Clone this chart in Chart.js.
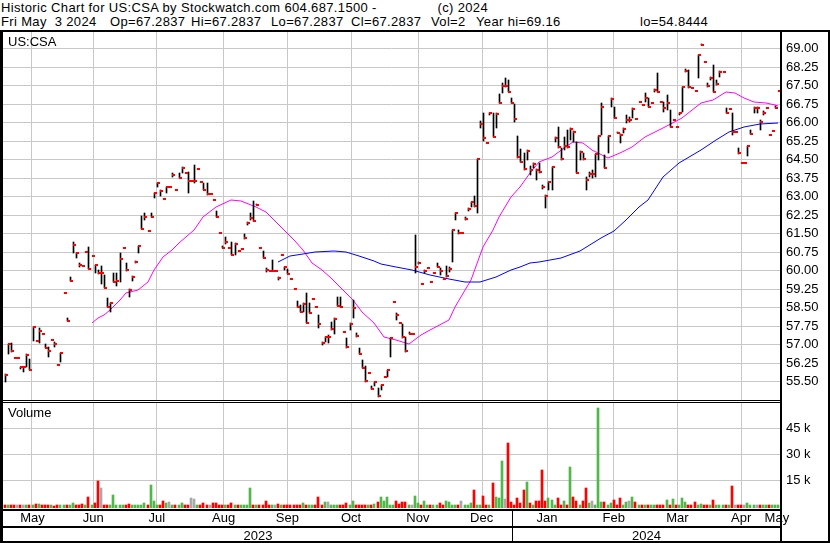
<!DOCTYPE html>
<html>
<head>
<meta charset="utf-8">
<script src="https://cdn.jsdelivr.net/npm/chart.js@4.4.1/dist/chart.umd.min.js"></script>
<style>
body { margin: 0; background: #fff; }
#wrap { position: relative; width: 830px; height: 543px; overflow: hidden; font-family: "Liberation Sans", Arial, sans-serif; }
.t { position: absolute; font-size: 13px; line-height: 14px; white-space: pre; color: #000; }
.h { letter-spacing: 0.35px; }
.k { position: absolute; background: #000; }
canvas { position: absolute; left: 0; }
</style>
</head>
<body>
<div id="wrap">
  <div class="t h" style="left:1px;top:1px">Historic Chart for US:CSA by Stockwatch.com 604.687.1500 -</div>
  <div class="t h" style="right:342px;top:1px">(c) 2024</div>
  <div class="t h" style="left:1px;top:15px">Fri May  3 2024</div>
  <div class="t h" style="left:110px;top:15px">Op=67.2837</div>
  <div class="t h" style="left:191px;top:15px">Hi=67.2837</div>
  <div class="t h" style="left:271px;top:15px">Lo=67.2837</div>
  <div class="t h" style="left:351px;top:15px">Cl=67.2837</div>
  <div class="t h" style="left:431px;top:15px">Vol=2</div>
  <div class="t h" style="left:476px;top:15px">Year hi=69.16</div>
  <div class="t h" style="left:640px;top:15px">lo=54.8444</div>
  <canvas id="price" width="830" height="368" style="top:32px"></canvas>
  <canvas id="vol" width="830" height="140" style="top:403px"></canvas>
  <div class="k" style="left:0;top:30px;width:830px;height:2px"></div>
  <div class="k" style="left:0;top:32px;width:3px;height:511px"></div>
  <div class="k" style="left:780px;top:32px;width:2px;height:511px"></div>
  <div class="k" style="left:828px;top:32px;width:2px;height:511px"></div>
  <div class="k" style="left:0;top:400px;width:782px;height:1px"></div>
  <div class="k" style="left:0;top:402px;width:782px;height:1px"></div>
  <div class="t" style="left:8px;top:35px">US:CSA</div>
  <div class="t" style="left:8px;top:406px">Volume</div>
</div>
<script>
// daily bars, May 4 2023 .. May 3 2024
var cl = [
  55.77,57.00,56.75,56.45,56.45,56.07,56.07,56.58,55.98,57.72, 57.15,57.56,57.42,56.84,56.75,57.19,57.00,56.18,56.66,
  59.07,57.96,59.58,61.03,60.70,60.22,60.19,60.75,60.07,60.60, 60.22,59.90,59.90,59.28,58.53,58.67,59.54,59.58,60.47,
  60.90,60.02,59.20,59.72,60.33,60.99,61.69,62.18,61.60,62.18, 63.12,63.53,63.23,62.90,63.39,63.39,63.88,63.26,63.73,64.16,
  63.96,63.64,63.64,63.64,64.11,63.58,63.26,63.10,63.10,62.85, 62.18,61.53,60.92,61.16,60.92,60.64,61.08,60.79,60.88,61.31, 61.92,62.12,62.01,
  62.65,60.92,60.51,60.03,59.96,59.99,59.99,59.70,60.64,60.12, 59.84,59.64,59.23,58.53,58.33,58.65,57.86,58.27,58.85,
  58.53,57.84,57.05,57.31,57.31,57.64,58.04,58.56,58.53,57.52, 56.91,57.83,58.49,57.33,56.61,56.03,55.52,55.86,55.21,55.49, 54.92,55.35,55.67,
  55.96,57.27,58.73,58.18,57.88,57.31,56.75,57.44,57.44,60.15, 60.29,59.44,59.99,60.11,59.54,59.91,60.15,59.99,59.64,59.78, 60.06,
  61.63,62.31,61.50,61.50,62.07,62.49,62.78,62.62,64.50,65.92, 65.38,65.15,66.37,65.42,66.33,66.77,67.47,67.47,67.24,66.80,
  66.15,64.58,64.40,64.10,64.85,64.06,64.30,64.06,64.00,63.39, 63.01,63.58,64.20,65.38,64.99,64.50,65.04,65.01,65.73,65.62, 63.96,
  64.81,64.51,63.66,63.89,63.89,64.70,65.45,66.61,64.16,65.45, 66.93,66.19,65.58,65.49,65.74,66.09,66.09,66.55,66.15,66.84,
  66.70,66.97,66.63,66.80,67.31,67.23,66.84,66.60,66.80,65.82, 66.09,65.82,66.37,67.42,68.09,67.42,67.38,67.28,68.73,69.13,
  68.46,67.47,67.78,67.24,67.55,68.03,68.05,66.39,66.55,65.62, 65.62,64.74,64.34,64.34,65.05,65.53,66.59,66.59,66.03,66.39, 66.59,65.47,
  65.66,66.59,67.28
];
var hi = [
  55.80,57.03,57.05,56.45,56.45,56.10,56.07,56.60,56.40,57.72, 57.15,57.68,57.42,57.00,56.90,57.19,57.10,56.18,56.66,
  59.07,58.07,59.75,61.16,60.70,60.30,60.19,60.75,60.95,60.60, 60.22,60.00,60.17,59.80,58.90,58.69,59.90,59.90,60.72,
  60.90,60.29,59.23,59.77,60.38,60.99,62.20,62.31,61.60,62.34, 63.12,63.53,63.26,62.90,63.39,63.39,63.94,63.26,63.94,64.18,
  63.96,64.00,63.64,64.27,64.11,63.58,63.55,63.53,63.10,62.85, 62.42,61.53,60.99,61.34,60.92,61.16,61.10,60.79,60.88,61.46, 61.97,62.31,62.81,
  62.70,60.92,60.79,60.11,59.96,60.42,59.99,59.75,60.64,60.12, 60.06,59.64,59.23,58.76,58.60,58.67,59.07,58.67,58.85,
  58.53,58.19,57.11,57.31,57.38,57.92,58.06,58.94,58.94,57.52, 57.25,57.86,58.80,57.45,56.84,56.37,56.13,55.86,55.32,55.49, 55.22,55.36,55.67,
  55.97,57.27,58.73,58.26,57.88,57.83,57.29,57.52,57.44,61.43, 60.35,59.44,60.02,60.11,59.54,59.91,60.31,60.09,59.64,60.18, 60.15,
  61.65,62.34,61.63,61.50,62.18,62.52,62.78,63.02,64.50,66.07, 66.37,65.15,66.39,66.39,66.37,67.14,67.61,67.78,67.72,66.97,
  66.74,65.45,64.91,64.77,64.88,64.23,64.34,64.10,64.34,63.46, 63.06,63.59,64.20,65.42,65.82,64.95,65.42,65.69,65.76,65.66, 65.22,
  64.85,64.75,63.80,64.00,64.07,64.70,65.45,66.77,64.68,65.45, 66.97,66.63,65.62,65.53,65.76,66.30,66.23,66.57,66.15,66.84,
  66.70,67.20,66.97,66.80,67.34,67.99,66.84,66.84,67.11,66.50, 66.09,65.82,66.39,67.42,68.15,68.12,67.38,67.28,68.73,69.16,
  68.46,67.58,67.85,68.32,67.72,68.08,68.05,66.57,66.55,66.39, 65.62,64.95,64.34,64.34,65.05,65.69,66.61,66.61,66.09,66.46, 66.59,65.47,
  65.66,66.66,67.28
];
var lo = [
  55.48,56.63,56.70,56.45,56.45,55.99,55.90,56.10,55.98,57.15, 57.15,57.07,57.42,56.84,56.50,57.19,56.90,56.18,56.30,
  59.07,57.96,59.58,60.72,60.50,60.15,60.19,60.75,60.07,60.60, 59.90,59.85,59.44,59.28,58.53,58.33,59.54,59.35,59.55,
  60.90,59.99,58.93,59.58,60.29,60.72,61.67,62.04,61.60,62.18, 62.92,63.39,63.02,62.90,63.12,63.39,63.80,63.26,63.73,63.96,
  63.96,63.15,63.64,63.53,64.11,63.58,63.26,63.05,63.10,62.85, 62.18,61.53,60.90,61.07,60.92,60.62,60.62,60.79,60.88,61.27, 61.84,62.04,62.01,
  62.65,60.92,60.49,59.95,59.96,59.98,59.99,59.61,60.64,60.02, 59.84,59.64,59.23,58.53,58.33,58.33,57.86,58.26,58.85,
  58.53,57.68,56.98,57.09,57.05,57.59,57.42,58.56,58.53,57.52, 56.84,57.59,58.06,57.31,56.61,56.03,55.49,55.86,55.18,55.32, 54.86,55.16,55.67,
  55.67,56.48,58.73,57.99,57.88,57.25,56.71,57.42,57.44,59.90, 60.25,59.44,59.88,60.11,59.54,59.91,60.15,59.81,59.64,59.75, 59.95,
  60.35,62.04,61.47,61.50,62.04,62.42,62.58,62.58,62.31,65.76, 65.24,65.15,66.30,65.42,65.76,66.77,67.18,67.42,67.24,66.77,
  66.03,64.54,64.40,64.07,64.47,63.87,64.14,63.66,63.94,63.29, 62.52,63.26,63.26,65.22,64.95,64.47,64.88,64.95,65.28,65.22, 63.94,
  64.47,64.47,63.26,63.80,63.73,63.80,64.47,65.49,64.14,64.75, 66.63,66.16,65.56,65.15,65.56,65.96,66.03,66.16,66.15,66.84,
  66.70,66.84,66.61,66.80,67.24,67.23,66.84,66.43,66.50,65.82, 66.09,65.82,66.30,66.43,68.05,67.38,67.38,67.28,67.78,69.13,
  68.46,67.44,67.72,67.24,67.51,67.85,68.05,66.37,66.55,65.49, 65.62,64.72,64.34,64.34,64.64,65.53,66.39,66.39,65.69,66.30, 66.59,65.47,
  65.66,66.57,67.28
];
// volume in thousands of shares
var vol = [
  0.6,0.8,0.5,0.6,0.5,0.7,0.6,0.5,0.6,0.8, 1.3,1.2,0.8,0.6,0.5,0.5,0.4,0.6,0.5,0.6,
  0.8,0.6,1.7,0.9,1.0,1.1,0.5,5.2,0.6,1.7, 14.4,10.4,0.8,0.6,0.5,6.5,0.7,0.8,0.5,1.0,
  1.1,0.6,0.8,0.6,1.0,1.7,0.9,12.3,2.9,0.9, 0.9,2.9,1.9,2.3,0.8,0.7,1.0,1.7,0.6,0.7,
  4.6,4.0,0.6,0.7,1.7,1.0,0.6,1.7,1.7,0.8, 0.9,0.7,0.8,1.7,0.6,0.8,0.9,0.8,1.0,10.4,
  1.0,0.5,0.6,1.0,2.9,0.7,0.8,0.6,1.3,0.7, 0.6,0.6,0.8,0.6,0.8,0.7,1.7,0.9,0.8,0.8,
  0.8,5.2,0.8,2.3,2.3,0.8,0.9,1.0,0.9,1.0, 1.7,1.0,2.9,0.9,1.0,1.0,0.8,0.9,1.0,1.3,
  2.3,5.2,3.3,5.2,0.9,1.0,2.9,1.3,2.3,2.3, 0.8,1.0,5.8,1.7,0.6,2.9,0.8,0.6,0.7,0.8,
  1.7,0.8,2.9,2.3,0.8,0.9,1.0,2.9,0.8,0.9, 1.7,9.2,1.0,0.6,5.8,1.0,1.0,13.5,5.2,4.6,
  26.0,4.0,36.3,2.3,0.8,4.6,1.7,9.2,13.8,1.7, 0.8,2.9,2.9,20.8,3.3,4.6,3.5,1.0,5.0,0.8,
  2.9,1.0,22.5,5.2,3.3,0.8,3.3,10.4,1.7,3.3, 0.8,57.0,2.3,2.3,0.8,1.7,3.5,0.6,4.6,0.8,
  2.3,2.9,5.2,2.3,0.5,0.5,0.5,0.6,0.8,0.5, 0.8,0.5,0.8,3.5,0.8,4.0,0.8,0.9,4.6,2.3,
  1.0,0.6,2.3,0.8,1.3,0.5,0.5,0.6,3.5,0.8, 0.8,0.5,0.5,0.6,11.5,0.8,0.5,0.6,0.5,1.7,
  0.6,0.5,0.6,1.0,0.5,0.6,0.5,0.5,0.6,0.5
];
// moving averages (bar index, value)
var ma1Idx = [28,30,32,34,37,39,43,46,48,51,54,56,61,64,68,73,76,81,84,89,93,96,99,102,105,109,112,115,119,122,126,130,134,137,143,145,150,154,157,159,163,166,169,172,176,180,183,186,189,194,198,202,206,212,218,224,228,232,235,238,241,245,248,249];
var ma1 = [57.86,58.06,58.19,58.40,58.80,59.07,59.20,59.54,60.02,60.56,60.83,61.10,61.64,62.18,62.58,62.85,62.81,62.58,62.38,61.77,61.23,60.83,60.29,60.02,59.68,59.21,58.80,58.33,57.86,57.31,57.18,57.00,57.38,57.59,57.99,58.53,59.61,60.96,61.64,62.18,62.99,63.39,63.94,64.40,64.61,64.95,65.22,65.15,64.88,64.54,64.75,65.01,65.42,65.76,66.16,66.77,66.90,67.22,67.18,66.97,66.81,66.80,66.70,66.66];
var ma2Idx = [88,92,96,100,106,110,114,119,121,126,131,137,143,148,153,158,163,166,169,172,179,185,192,196,200,204,207,212,217,224,229,233,238,243,249];
var ma2 = [60.35,60.58,60.66,60.73,60.77,60.73,60.58,60.39,60.25,60.15,60.02,59.81,59.64,59.52,59.54,59.75,60.02,60.13,60.29,60.35,60.50,60.80,61.30,61.60,62.04,62.57,62.85,63.80,64.34,64.88,65.28,65.62,65.82,65.93,65.96];

var monthNames = ['May','Jun','Jul','Aug','Sep','Oct','Nov','Dec','Jan','Feb','Mar','Apr','May'];
var monthStart = [0,19,39,60,82,101,123,144,164,186,207,227,248];
var years = ['2023','2024'];
var yearStart = [0,164];
var priceTicks = [55.5,56.25,57,57.75,58.5,59.25,60,60.75,61.5,62.25,63,63.75,64.5,65.25,66,66.75,67.5,68.25,69];
var volTicks = [15,30,45];

var N = cl.length;
var GRID = '#c8c8c8';
Chart.defaults.font.family = '"Liberation Sans", Arial, sans-serif';
Chart.defaults.font.size = 13;
Chart.defaults.color = '#000';

// close tick: small red mark to the right of the bar
var tick = document.createElement('canvas');
tick.width = 6; tick.height = 2;
var tc = tick.getContext('2d');
tc.fillStyle = '#ff0000';
tc.fillRect(3, 0, 3, 2);

// keep thin bars and ticks on whole pixels so they stay crisp
var snap = {
  id: 'snap',
  afterDatasetsUpdate: function(chart) {
    chart.data.datasets.forEach(function(ds, di) {
      var meta = chart.getDatasetMeta(di);
      if (ds.showLine === false || meta.type === 'bar') {
        meta.data.forEach(function(el) {
          var w = el.width || 0;
          el.x = Math.round(el.x - w / 2) + w / 2;
          if (ds.showLine === false) el.y = Math.round(el.y);
        });
      }
    });
  }
};

var monthGrid = function(s) {
  s.ticks = monthStart.slice(1).map(function(v) { return {value: v - 0.5}; });
};

new Chart(document.getElementById('price'), {
  type: 'bar',
  data: {
    datasets: [
      { type: 'line', data: ma1Idx.map(function(x, k) { return {x: x, y: ma1[k]}; }),
        borderColor: '#ff00ff', borderWidth: 1, pointRadius: 0, order: 3 },
      { type: 'line', data: ma2Idx.map(function(x, k) { return {x: x, y: ma2[k]}; }),
        borderColor: '#0000ff', borderWidth: 1, pointRadius: 0, order: 2 },
      { type: 'bar', data: cl.map(function(c, i) { return {x: i, y: [lo[i], hi[i]]}; }),
        backgroundColor: '#000', barThickness: 1, order: 1 },
      { type: 'line', data: cl.map(function(c, i) { return {x: i, y: c}; }),
        showLine: false, pointStyle: tick, pointRadius: 2, order: 0 }
    ]
  },
  options: {
    responsive: false, animation: false, events: [],
    layout: { padding: { left: 3, right: 0, top: 0, bottom: 0 }, autoPadding: false },
    plugins: { legend: { display: false }, tooltip: { enabled: false } },
    scales: {
      x: {
        type: 'linear', min: -0.5, max: N - 0.5, offset: false, alignToPixels: true,
        afterBuildTicks: monthGrid,
        ticks: { display: false },
        grid: { color: GRID, drawTicks: false },
        border: { display: false },
        afterFit: function(s) { s.height = 0; }
      },
      y: {
        position: 'right', min: 54.75, max: 69.66, alignToPixels: true,
        afterBuildTicks: function(s) { s.ticks = priceTicks.map(function(v) { return {value: v}; }); },
        ticks: { padding: 6, callback: function(v) { return v.toFixed(2); } },
        grid: { color: GRID, drawTicks: false },
        border: { display: false },
        afterFit: function(s) { s.width = 50; s.paddingTop = 0; s.paddingBottom = 0; }
      }
    }
  },
  plugins: [snap]
});

var bottomRows = {
  id: 'bottomRows',
  afterDraw: function(chart) {
    var ctx = chart.ctx, xs = chart.scales.x;
    ctx.save();
    ctx.fillStyle = '#000';
    ctx.fillRect(0, 106, 782, 2);
    ctx.fillRect(0, 123, 782, 2);
    ctx.fillRect(0, 138, 830, 2);
    var edges = yearStart.map(function(s) { return Math.round(xs.getPixelForValue(s - 0.5)); });
    edges.push(xs.right);
    ctx.fillRect(edges[1] - 1, 108, 1, 30);
    ctx.font = '13px "Liberation Sans", Arial, sans-serif';
    ctx.textAlign = 'center';
    ctx.textBaseline = 'alphabetic';
    years.forEach(function(y, k) { ctx.fillText(y, (edges[k] + edges[k + 1]) / 2, 137); });
    ctx.restore();
  }
};

var volMin = -0.98;
new Chart(document.getElementById('vol'), {
  type: 'bar',
  data: {
    datasets: [{
      data: vol.map(function(v, i) { return {x: i, y: v}; }),
      backgroundColor: cl.map(function(c, i) {
        if (i === 0 || c < cl[i - 1]) return '#ff0000';
        if (c > cl[i - 1]) return '#50b848';
        return '#a8a8a8';
      }),
      barThickness: 2, base: volMin
    }]
  },
  options: {
    responsive: false, animation: false, events: [],
    layout: { padding: { left: 3, right: 0, top: 0, bottom: 0 }, autoPadding: false },
    plugins: { legend: { display: false }, tooltip: { enabled: false } },
    scales: {
      x: {
        type: 'linear', min: -0.5, max: N - 0.5, offset: false, alignToPixels: true,
        afterBuildTicks: monthGrid,
        ticks: { display: false },
        grid: { color: GRID, drawTicks: false },
        border: { display: false },
        afterFit: function(s) { s.height = 0; }
      },
      x2: {
        type: 'linear', position: 'bottom', min: -0.5, max: N - 0.5, offset: false,
        afterBuildTicks: function(s) {
          s.ticks = monthStart.map(function(v, k) {
            var end = k + 1 < monthStart.length ? monthStart[k + 1] : N;
            return {value: (v + end - 1) / 2};
          });
        },
        ticks: { padding: 3, autoSkip: false, maxRotation: 0, minRotation: 0,
          callback: function(v, i) { return monthNames[i]; } },
        grid: { display: false, drawTicks: false },
        border: { display: false },
        afterFit: function(s) { s.height = 35; s.paddingLeft = 0; s.paddingRight = 0; }
      },
      y: {
        position: 'right', min: volMin, max: 59.6, alignToPixels: true,
        afterBuildTicks: function(s) { s.ticks = volTicks.map(function(v) { return {value: v}; }); },
        ticks: { padding: 6, callback: function(v) { return v + ' k'; } },
        grid: { color: GRID, drawTicks: false },
        border: { display: false },
        afterFit: function(s) { s.width = 50; s.paddingTop = 0; s.paddingBottom = 0; }
      }
    }
  },
  plugins: [snap, bottomRows]
});
</script>
</body>
</html>
